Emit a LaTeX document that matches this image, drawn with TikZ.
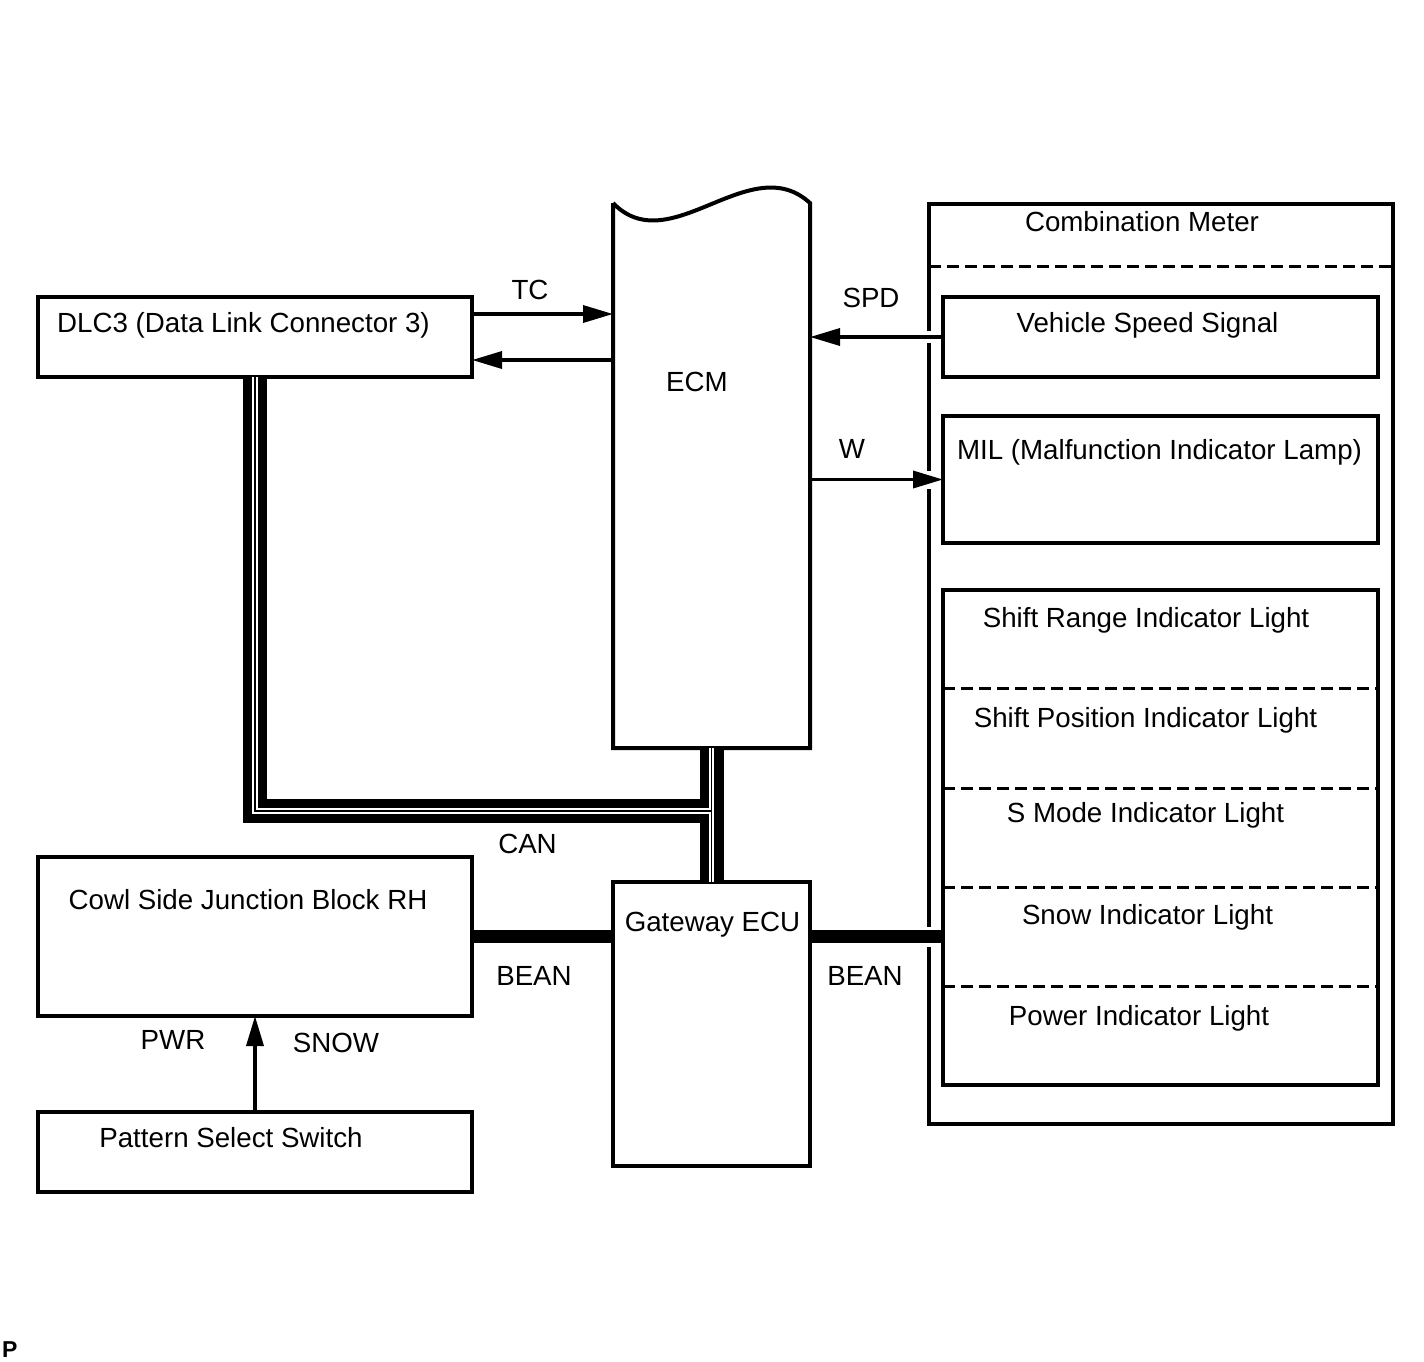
\documentclass[tikz,border=0pt]{standalone}
\usepackage{fontspec}
\setmainfont{Liberation Sans}
\usetikzlibrary{arrows.meta, positioning, calc}
\tikzset{
  every picture/.style={font=\fontsize{27.7}{33}\selectfont, >={Triangle[length=30pt, width=17pt]}},
  unit/.style={draw, line width=4pt, inner sep=0pt, outer sep=0pt},
  ghost/.style={inner sep=0pt, outer sep=0pt},
  txt/.style={anchor=base, inner sep=0pt},
  sig/.style={->, line width=3.5pt},
  bean/.style={line width=12.5pt},
  canbus/.style={line width=24pt,
    postaction={draw=white, line width=5.2pt},
    postaction={draw=black, line width=1.8pt}},
  sepline/.style={dash pattern=on 12pt off 6pt, line width=3pt},
}

\begin{document}
\begin{tikzpicture}[x=1pt, y=-1pt]
  \useasboundingbox (0,0) rectangle (1424,1361);
  % left column
  \node[unit, minimum width=434pt, minimum height=80pt] (dlc) at (255,337) {};
  \node[txt] (dlcT) at (243.5,332) {DLC3 (Data Link Connector 3)};
  \node[unit, minimum width=434pt, minimum height=159pt] (cowl) at (255,936.5) {};
  \node[txt] (cowlT) at (248,909) {Cowl Side Junction Block RH};
  \node[unit, minimum width=434pt, minimum height=80pt] (pss) at (255,1152) {};
  \node[txt] (pssT) at (231,1147) {Pattern Select Switch};
  % ECM and gateway
  \node[ghost, minimum width=197pt, minimum height=545pt] (ecm) at (711.5,475.5) {};
  \draw[line width=4pt] (ecm.north west) -- (ecm.south west) -- (ecm.south east) -- (ecm.north east)
    .. controls +(-60,-55) and +(57,59) .. (ecm.north west);
  \node[txt] (ecmT) at (697,391) {ECM};
  \node[unit, minimum width=197pt, minimum height=284pt] (gw) at (711.5,1024) {};
  \node[txt] (gwT) at (712.5,931) {Gateway ECU};
  % combination meter
  \node[ghost, minimum width=464pt, minimum height=920pt] (cm) at (1161,664) {};
  \node[txt] (cmT) at (1142,231) {Combination Meter};
  \node[unit, minimum width=435pt, minimum height=80pt] (vss) at (1160.5,337) {};
  \node[txt] (vssT) at (1147.5,332) {Vehicle Speed Signal};
  \node[unit, minimum width=435pt, minimum height=127pt] (mil) at (1160.5,479.5) {};
  \node[txt] (milT) at (1159.5,459) {MIL (Malfunction Indicator Lamp)};
  \node[unit, minimum width=435pt, minimum height=495pt] (ind) at (1160.5,837.5) {};
  \node[txt] (ind1) at (1146,627) {Shift Range Indicator Light};
  \node[txt] (ind2) at (1145.5,727) {Shift Position Indicator Light};
  \node[txt] (ind3) at (1145.5,822) {S Mode Indicator Light};
  \node[txt] (ind4) at (1147.5,924) {Snow Indicator Light};
  \node[txt] (ind5) at (1139,1025) {Power Indicator Light};
  \foreach \d in {98,198,297,396}
    \draw[sepline] ([yshift=-\d pt]ind.north west) -- ([yshift=-\d pt]ind.north east);
  \draw[sepline] ([yshift=-62pt]cm.north west) -- ([yshift=-62pt]cm.north east);
  % frame, left side broken where the lines pass
  \draw[line width=4pt] ([yshift=6pt]cm.west |- vss.west) -- (cm.north west) -- (cm.north east)
    -- (cm.south east) -- (cm.south west) -- ([yshift=-10pt]cm.west |- cowl.east);
  \draw[line width=4pt] ([yshift=10pt]cm.west |- cowl.east) -- ([yshift=-9pt]cm.west |- mil.west);
  \draw[line width=4pt] ([yshift=9pt]cm.west |- mil.west) -- ([yshift=-6pt]cm.west |- vss.west);
  % signals
  \draw[sig] ([yshift=23pt]dlc.east) -- ([yshift=23pt]dlc.east -| ecm.west);
  \draw[sig] ([yshift=-23pt]dlc.east -| ecm.west) -- ([yshift=-23pt]dlc.east);
  \draw[sig] (vss.west) -- (vss.west -| ecm.east);
  \draw[sig] (mil.west -| ecm.east) -- (mil.west);
  \draw[sig] (pss.north) -- (cowl.south);
  \draw[bean] (cowl.east) -- (cowl.east -| gw.west) (cowl.east -| gw.east) -- (cowl.east -| ind.west);
  \coordinate (canJ) at (711.5,811);
  \draw[canbus] (dlc.south) |- (canJ) (ecm.south) -- (gw.north);
  % labels
  \node[txt] (tcL) at (530,299) {TC};
  \node[txt] (spdL) at (871,307) {SPD};
  \node[txt] (wL) at (852,458) {W};
  \node[txt] (canL) at (527.5,853) {CAN};
  \node[txt] (beanL) at (534,985) {BEAN};
  \node[txt] (beanR) at (865,985) {BEAN};
  \node[txt] (pwrL) at (173,1049) {PWR};
  \node[txt] (snowL) at (336,1052) {SNOW};
  \node[anchor=base west, inner sep=0pt, font=\fontsize{23}{26}\selectfont\bfseries] (pg) at (2,1357) {P};
\end{tikzpicture}
\end{document}
